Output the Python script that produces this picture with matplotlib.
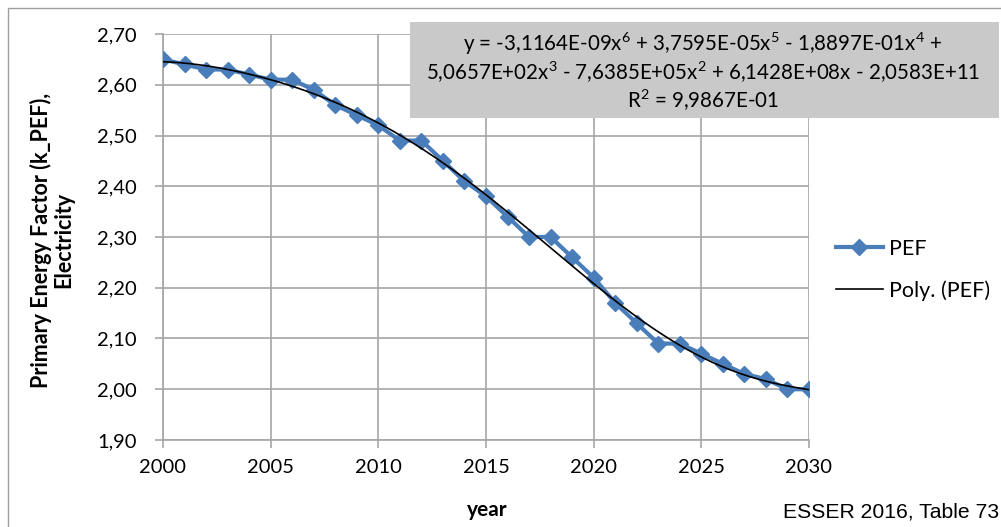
import numpy as np
import matplotlib
matplotlib.use("Agg")
import matplotlib.pyplot as plt
from matplotlib.patches import Rectangle
from matplotlib.ticker import FuncFormatter, MultipleLocator

years = list(range(2000, 2031))
pef = [2.65, 2.64, 2.63, 2.63, 2.62, 2.61, 2.61, 2.59, 2.56, 2.54,
       2.52, 2.49, 2.49, 2.45, 2.41, 2.38, 2.34, 2.30, 2.30, 2.26,
       2.22, 2.17, 2.13, 2.09, 2.09, 2.07, 2.05, 2.03, 2.02, 2.00, 2.00]
series_label = "PEF"
trend_label = "Poly. (PEF)"
x_label = "year"
y_label = "Primary Energy Factor (k_PEF),\nElectricity"
equation = ("y = -3,1164E-09x$^{6}$ + 3,7595E-05x$^{5}$ - 1,8897E-01x$^{4}$ +\n"
            "5,0657E+02x$^{3}$ - 7,6385E+05x$^{2}$ + 6,1428E+08x - 2,0583E+11\n"
            "R$^{2}$ = 9,9867E-01")
source = "ESSER 2016, Table 73"

FONT = ["Lato", "DejaVu Sans"]
plt.rcParams["font.family"] = FONT
plt.rcParams["mathtext.fontset"] = "custom"
plt.rcParams["mathtext.rm"] = "Lato"
plt.rcParams["mathtext.it"] = "Lato:italic"
plt.rcParams["mathtext.bf"] = "Lato:bold"
plt.rcParams["mathtext.default"] = "regular"

fig = plt.figure(figsize=(10.01, 5.27), dpi=100)
W, H = 1001, 527
ax = fig.add_axes([163 / W, 1 - 440 / H, (809 - 163) / W, (440 - 34) / H])

blue = "#4A7EBB"
grid_c = "#A6A6A6"

# polynomial trendline (degree 6) fitted to the data
yr = np.array(years, dtype=float)
coef = np.polyfit(yr - 2000, np.array(pef), 6)
xs = np.linspace(yr.min(), yr.max(), 300)
ys = np.polyval(coef, xs - 2000)

ax.plot(years, pef, color=blue, lw=3.0, marker="D", ms=7.8,
        markeredgecolor=blue, markerfacecolor=blue, label=series_label, zorder=3)
ax.plot(xs, ys, color="black", lw=1.2, label=trend_label, zorder=4)

ax.set_xlim(2000, 2030)
ax.set_ylim(1.90, 2.70)
ax.xaxis.set_major_locator(MultipleLocator(5))
ax.yaxis.set_major_locator(MultipleLocator(0.1))
ax.yaxis.set_major_formatter(FuncFormatter(lambda v, p: f"{v:.2f}".replace(".", ",")))
ax.grid(True, color=grid_c, lw=1.2)
ax.set_axisbelow(True)
for s in ["top", "right"]:
    ax.spines[s].set_visible(False)
for s in ["left", "bottom"]:
    ax.spines[s].set_color(grid_c)
    ax.spines[s].set_linewidth(1.2)
ax.tick_params(axis="both", colors=grid_c, width=1.2, length=6, labelsize=14.5,
               labelcolor="black")
ax.tick_params(axis="x", pad=8)
ax.tick_params(axis="y", pad=13)

fig.text(487 / W, 1 - 510 / H, x_label, ha="center", va="center",
         fontsize=15, fontweight="bold")
fig.text(52 / W, 1 - 240 / H, y_label, ha="center", va="center",
         rotation=90, fontsize=15.5, fontweight="bold", linespacing=1.08)
fig.text(783 / W, 1 - 512 / H, source, ha="left", va="center",
         fontsize=15.2, family=["Liberation Sans", "DejaVu Sans"])

# equation box
fig.patches.append(Rectangle((410 / W, 1 - 118 / H), (999 - 410) / W, (118 - 22) / H,
                             transform=fig.transFigure, facecolor="#C9C9C9",
                             edgecolor="none", zorder=5))
fig.text(703 / W, 1 - 72 / H, equation, ha="center", va="center",
         fontsize=14.8, linespacing=1.15, zorder=6)

# chart border
fig.patches.append(Rectangle((8 / W, -0.1), 1.2, 1 - 8 / H + 0.1,
                             transform=fig.transFigure, facecolor="none",
                             edgecolor="#9E9E9E", lw=1.0, zorder=1))

leg = fig.legend(loc="upper left", bbox_to_anchor=(827 / W, 1 - 230 / H),
                 frameon=False, fontsize=15.5, handlelength=2.2,
                 labelspacing=1.0, handletextpad=0.3, borderaxespad=0)

fig.savefig("out.png", dpi=100)
